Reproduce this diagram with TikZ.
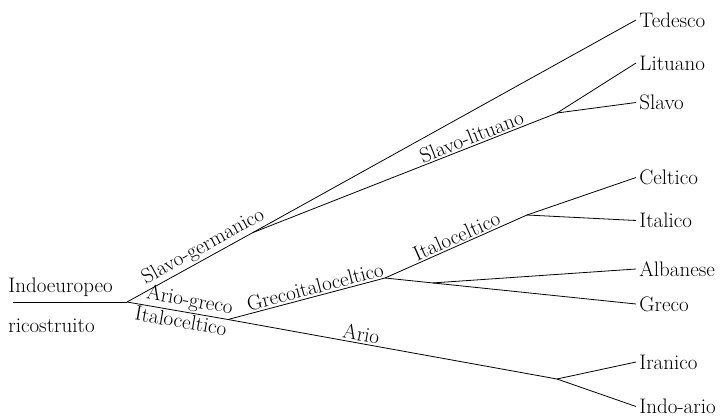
\documentclass[tikz,border=0pt]{standalone}
\usepackage{fontspec}
\begin{document}
\begin{tikzpicture}[x=1pt,y=-1pt,line width=0.8pt,
  every node/.style={font=\fontsize{21}{25}\selectfont, inner sep=1pt},
  leaf/.style={anchor=west, inner sep=3pt},
  lab/.style={sloped, inner sep=1.5pt},
  roottext/.style={anchor=base west, inner sep=0pt}]
\useasboundingbox (0,0) rectangle (723,417);
% branch points
\coordinate (start) at (13,302);
\coordinate (R) at (127,302);
\coordinate (SG) at (253,232.5);
\coordinate (SL) at (557,113);
\coordinate (AG) at (228,319.5);
\coordinate (GI) at (385,278);
\coordinate (IC) at (527,215);
\coordinate (AR) at (557,379);
% root text
\node[roottext] (ie) at (8,292) {Indoeuropeo};
\node[roottext] (ric) at (8,332) {ricostruito};
% leaves
\node[leaf] (ted) at (636,20) {Tedesco};
\node[leaf] (lit) at (636,63) {Lituano};
\node[leaf] (sla) at (636,102.5) {Slavo};
\node[leaf] (cel) at (636,177.5) {Celtico};
\node[leaf] (ita) at (636,220.5) {Italico};
\node[leaf] (alb) at (636,269) {Albanese};
\node[leaf] (gre) at (636,304) {Greco};
\node[leaf] (ira) at (636,362) {Iranico};
\node[leaf] (ind) at (636,406.5) {Indo-ario};
% edges
\draw (start) -- (R);
\draw (R) -- node[lab,above,pos=0.65] (lsg) {Slavo-germanico} (SG);
\draw (SG) -- (ted.west);
\draw (SG) -- node[lab,above,pos=0.73] (lsl) {Slavo-lituano} (SL);
\draw (SL) -- (lit.west);
\draw (SL) -- (sla.west);
\draw (R) -- node[lab,above,pos=0.6] (lag) {Ario-greco}
              node[lab,below,pos=0.55] (lic1) {Italoceltico} (AG);
\draw (AG) -- node[lab,above,pos=0.57] (lgi) {Grecoitaloceltico} (GI);
\draw (GI) -- node[lab,above,pos=0.53] (lic2) {Italoceltico} (IC);
\draw (IC) -- (cel.west);
\draw (IC) -- (ita.west);
\draw (GI) -- coordinate[pos=0.19] (AB) (gre.west);
\draw (AB) -- (alb.west);
\draw (AG) -- node[lab,above,pos=0.4] (lar) {Ario} (AR);
\draw (AR) -- (ira.west);
\draw (AR) -- (ind.west);
\end{tikzpicture}
\end{document}
